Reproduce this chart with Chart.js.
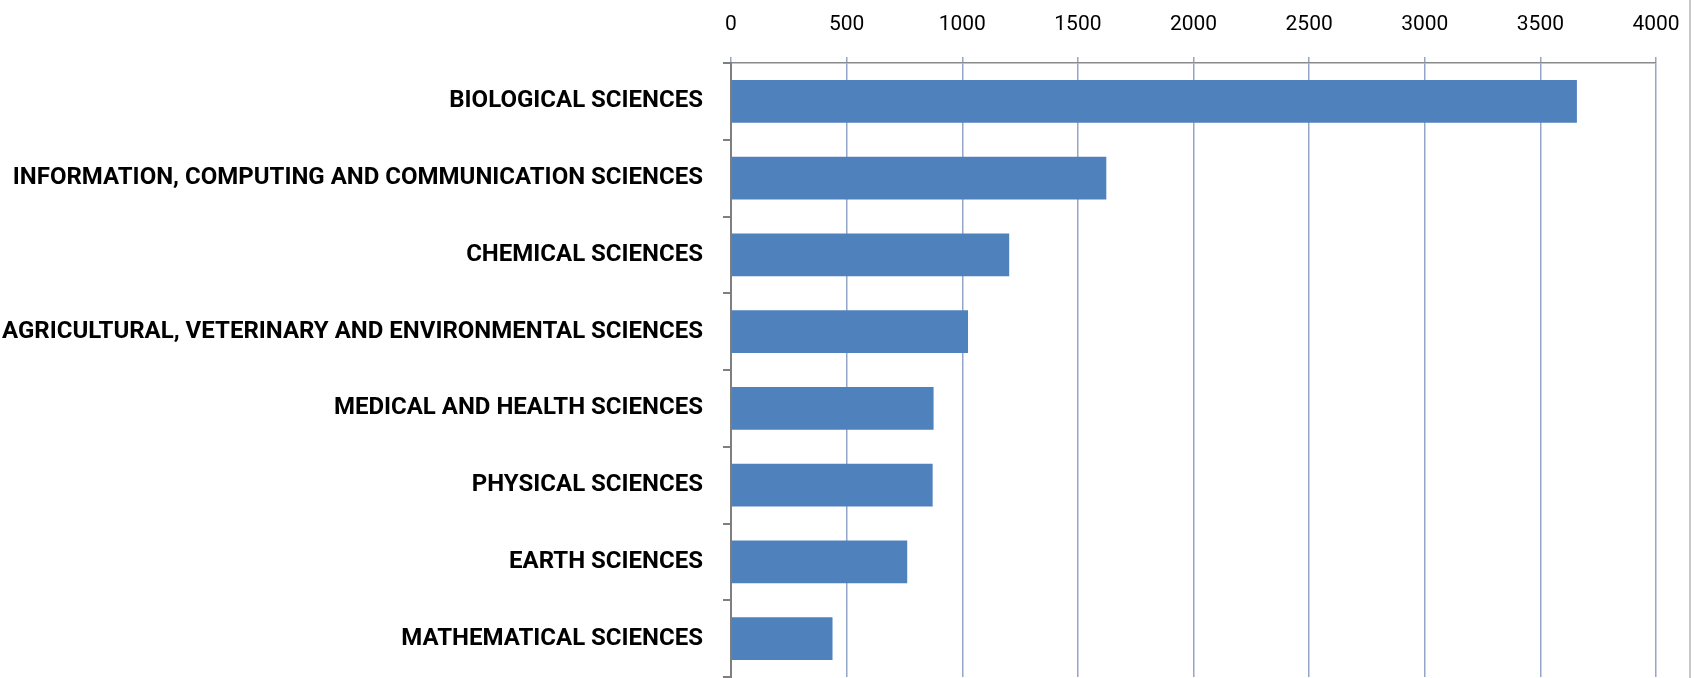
<!DOCTYPE html>
<html>
<head>
<meta charset="utf-8">
<script src="https://cdn.jsdelivr.net/npm/chart.js@4/dist/chart.umd.min.js"></script>
<style>
    html, body { margin: 0; padding: 0; background: #fff; }
    #wrap { position: relative; width: 1695px; height: 678px; }
    #frame { position: absolute; left: 1689px; top: 0; width: 2px; height: 678px; background: #c8c8c8; }
</style>
</head>
<body>
<div id="wrap">
    <canvas id="fieldChart" width="1695" height="678"></canvas>
    <div id="frame"></div>
</div>
<script>
// Fields of research, top to bottom as in the picture
const fields = [
    'BIOLOGICAL SCIENCES',
    'INFORMATION, COMPUTING AND COMMUNICATION SCIENCES',
    'CHEMICAL SCIENCES',
    'AGRICULTURAL, VETERINARY AND ENVIRONMENTAL SCIENCES',
    'MEDICAL AND HEALTH SCIENCES',
    'PHYSICAL SCIENCES',
    'EARTH SCIENCES',
    'MATHEMATICAL SCIENCES'
];
const counts = [3658, 1623, 1203, 1025, 876, 872, 762, 439];
const axisMin = 0;
const axisMax = 4000;
const axisStep = 500;

const labelFont = "Roboto, 'Liberation Sans', Arial, sans-serif";

const ctx = document.getElementById('fieldChart');
new Chart(ctx, {
    type: 'bar',
    data: {
        labels: fields,
        datasets: [{
            label: 'Count',
            data: counts,
            backgroundColor: '#4F81BD',
            borderWidth: 0,
            barPercentage: 0.56,
            categoryPercentage: 1.0,
        }]
    },
    options: {
        indexAxis: 'y',
        responsive: false,
        animation: false,
        layout: { padding: { top: 0, right: 39, bottom: 1, left: 0 } },
        plugins: {
            legend: { display: false },
            tooltip: { enabled: false },
        },
        scales: {
            x: {
                position: 'top',
                min: axisMin,
                max: axisMax,
                ticks: {
                    stepSize: axisStep,
                    color: '#000',
                    padding: 20,
                    font: { size: 21, family: labelFont },
                    callback: (v) => String(v),
                },
                grid: {
                    color: '#94A6C9',
                    lineWidth: 1.5,
                    tickLength: 6,
                },
                border: { color: '#8a8a8a', width: 1.5 },
                afterFit: (scale) => {
                    scale.height = 63;
                    scale.paddingLeft = 0;
                    scale.paddingRight = 0;
                },
            },
            y: {
                ticks: {
                    color: '#000',
                    padding: 20,
                    font: { size: 24, weight: 'bold', family: labelFont },
                },
                grid: {
                    drawOnChartArea: false,
                    color: '#7f7f7f',
                    lineWidth: 2,
                    tickLength: 8,
                },
                border: { color: '#7f7f7f', width: 2 },
                afterFit: (scale) => {
                    scale.width = 731;
                    scale.paddingTop = 0;
                    scale.paddingBottom = 0;
                },
            }
        }
    }
});
</script>
</body>
</html>
